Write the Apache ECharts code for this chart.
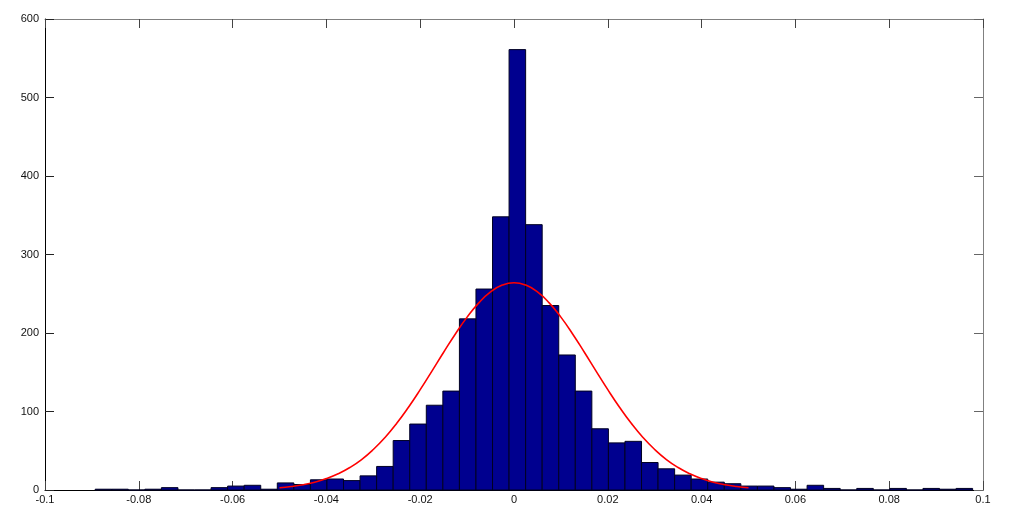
<!DOCTYPE html>
<html>
<head>
<meta charset="utf-8">
<script src="https://cdn.jsdelivr.net/npm/echarts@6/dist/echarts.min.js"></script>
<style>
html,body{margin:0;padding:0;background:#fff;}
#chart{width:1015px;height:515px;}
</style>
</head>
<body>
<div id="chart"></div>
<script>
// Histogram bins (left edge of first bin, bin width) and counts
const binStart = -0.0893;
const binWidth = 0.00353;
const counts = [1,1,0,1,3,0,0,3,5,6,1,9,7,13,14,12,18,30,63,84,108,126,218,256,348,561,
  338,235,172,126,78,60,62,35,27,19,14,10,8,5,5,3,1,6,2,0,2,0,2,0,2,1,2];

// Fitted curve points
const curveX = [-0.05,-0.0475,-0.045,-0.0425,-0.04,-0.0375,-0.035,-0.0325,-0.03,-0.0275,-0.025,-0.0225,-0.02,-0.0175,-0.015,-0.0125,-0.01,-0.0075,-0.005,-0.0025,0,
  0.0025,0.005,0.0075,0.01,0.0125,0.015,0.0175,0.02,0.0225,0.025,0.0275,0.03,0.0325,0.035,0.0375,0.04,0.0425,0.045,0.0475,0.05];
const curveY = [2.8,4.4,6.7,10.0,14.5,20.6,28.6,38.8,51.6,66.9,84.9,105.4,127.8,151.5,175.5,198.8,220.2,238.4,252.3,261.0,264,
  261.0,252.3,238.4,220.2,198.8,175.5,151.5,127.8,105.4,84.9,66.9,51.6,38.8,28.6,20.6,14.5,10.0,6.7,4.4,2.8];

const xTickLabels = ['-0.1','-0.08','-0.06','-0.04','-0.02','0','0.02','0.04','0.06','0.08','0.1'];
const yTickLabels = ['0','100','200','300','400','500','600'];

const histData = counts.map((c, i) => [binStart + i * binWidth, binStart + (i + 1) * binWidth, c]);
const lineData = curveX.map((x, i) => [x, curveY[i]]);

const chart = echarts.init(document.getElementById('chart'), null, {renderer: 'canvas'});
const font = {fontFamily: 'Liberation Sans, Arial, sans-serif', fontSize: 11, color: '#111'};
chart.setOption({
  animation: false,
  backgroundColor: '#fff',
  grid: {left: 45, right: 32, top: 19, bottom: 25, containLabel: false},
  xAxis: [{
    type: 'value', min: -0.1, max: 0.1, interval: 0.02, position: 'bottom',
    axisLine: {show: true, onZero: false, lineStyle: {color: '#000', width: 1}},
    axisTick: {inside: true, length: 9, lineStyle: {color: '#444'}},
    splitLine: {show: false},
    axisLabel: Object.assign({margin: 4, formatter: v => xTickLabels[Math.round((v + 0.1) / 0.02)]}, font)
  }, {
    type: 'value', min: -0.1, max: 0.1, interval: 0.02, position: 'top',
    axisLine: {show: true, onZero: false, lineStyle: {color: '#808080', width: 1}},
    axisTick: {inside: true, length: 9, lineStyle: {color: '#444'}},
    splitLine: {show: false}, axisLabel: {show: false}
  }],
  yAxis: [{
    type: 'value', min: 0, max: 600, interval: 100, position: 'left',
    axisLine: {show: true, onZero: false, lineStyle: {color: '#000', width: 1}},
    axisTick: {show: true, inside: true, length: 9, lineStyle: {color: '#222'}},
    splitLine: {show: false},
    axisLabel: Object.assign({margin: 6, formatter: v => yTickLabels[Math.round(v / 100)]}, font)
  }, {
    type: 'value', min: 0, max: 600, interval: 100, position: 'right',
    axisLine: {show: true, onZero: false, lineStyle: {color: '#808080', width: 1}},
    axisTick: {show: true, inside: true, length: 9, lineStyle: {color: '#666'}},
    splitLine: {show: false}, axisLabel: {show: false}
  }],
  series: [{
    type: 'custom',
    xAxisIndex: 0, yAxisIndex: 0,
    z: 2,
    encode: {x: [0, 1], y: 2},
    data: histData,
    renderItem: function (params, api) {
      const p0 = api.coord([api.value(0), api.value(2)]);
      const p1 = api.coord([api.value(1), 0]);
      return {
        type: 'rect',
        shape: {x: p0[0], y: p0[1], width: p1[0] - p0[0], height: p1[1] - p0[1]},
        style: {fill: '#00008f', stroke: '#000022', lineWidth: 1}
      };
    }
  }, {
    type: 'line',
    xAxisIndex: 0, yAxisIndex: 0,
    z: 3,
    data: lineData,
    smooth: true,
    showSymbol: false,
    lineStyle: {color: '#ff0000', width: 1.6}
  }]
});
</script>
</body>
</html>
